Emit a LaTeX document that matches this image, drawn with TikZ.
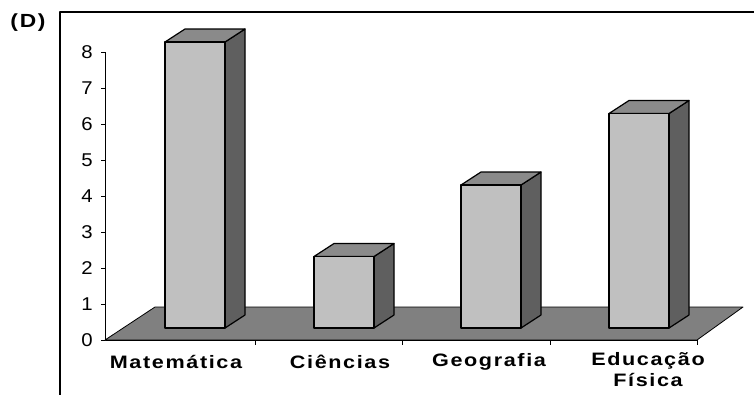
\documentclass[tikz,border=0pt]{standalone}
\usepackage{fontspec}
\setmainfont{Liberation Sans}
\newfontfamily\lblfont[LetterSpace=9,FakeStretch=1.2]{Liberation Sans}
\newfontfamily\tickfont[FakeStretch=1.1]{Liberation Sans}
\usetikzlibrary{positioning}
\definecolor{barfront}{HTML}{C0C0C0}
\definecolor{bartop}{HTML}{8A8A8A}
\definecolor{barside}{HTML}{5F5F5F}
\definecolor{floorgray}{HTML}{808080}

\begin{document}
\begin{tikzpicture}[x=1pt,y=-1pt,line join=round,
    front/.style={draw=black,line width=1.2pt,fill=barfront},
    topface/.style={draw=black,line width=1.2pt,fill=bartop},
    sideface/.style={draw=black,line width=1.2pt,fill=barside},
    tick label/.style={anchor=east,inner sep=0pt,font=\tickfont\fontsize{18.5}{18.5}\selectfont},
    cat label/.style={inner sep=0pt,align=center,font=\lblfont\bfseries\fontsize{18}{21}\selectfont}]
    \useasboundingbox (0,0) rectangle (754,394);

    % frame and panel letter
    \draw[line width=2.5pt] (60,400) -- (60,12) -- (760,12);
    \node[font=\lblfont\bfseries\fontsize{19}{19}\selectfont,inner sep=0pt] (letter) at (28,23) {(D)};

    % floor
    \coordinate (o) at (105,340);
    \coordinate (xend) at (697,340);
    \coordinate (yend) at (105,52);
    \fill[floorgray,draw=black,line width=0.8pt] (o) -- (155,307) -- (743,307) -- (xend) -- cycle;

    % axes
    \draw[line width=1pt] (yend) -- (o) -- (xend);
    \foreach \v in {0,...,8}{
        \draw[line width=1pt] (101,340-36*\v) -- (105,340-36*\v);
        \node[tick label] (t\v) at (93,340-36*\v) {\v};
    }
    \foreach \x in {255,402,550,697}
        \draw[line width=1pt] (\x,340) -- (\x,345);

    % bars
    \foreach \xa/\val/\nm in {165/8/mat,314/2/cie,461/4/geo,609/6/edf}{
        \pgfmathsetmacro{\yt}{328-35.75*\val}
        \path[sideface] (\xa+60,328) -- (\xa+80,315) -- (\xa+80,\yt-13) -- (\xa+60,\yt) -- cycle;
        \path[topface] (\xa,\yt) -- (\xa+20,\yt-13) -- (\xa+80,\yt-13) -- (\xa+60,\yt) -- cycle;
        \path[front] (\xa,328) rectangle (\xa+60,\yt);
    }

    % category labels
    \node[cat label] (mat) at (176,362) {Matemática};
    \node[cat label] (cie) at (340,362) {Ciências};
    \node[cat label] (geo) at (489,362) {Geografia};
    \node[cat label,anchor=north] (edf) at (648,352) {Educação\\Física};
\end{tikzpicture}
\end{document}
